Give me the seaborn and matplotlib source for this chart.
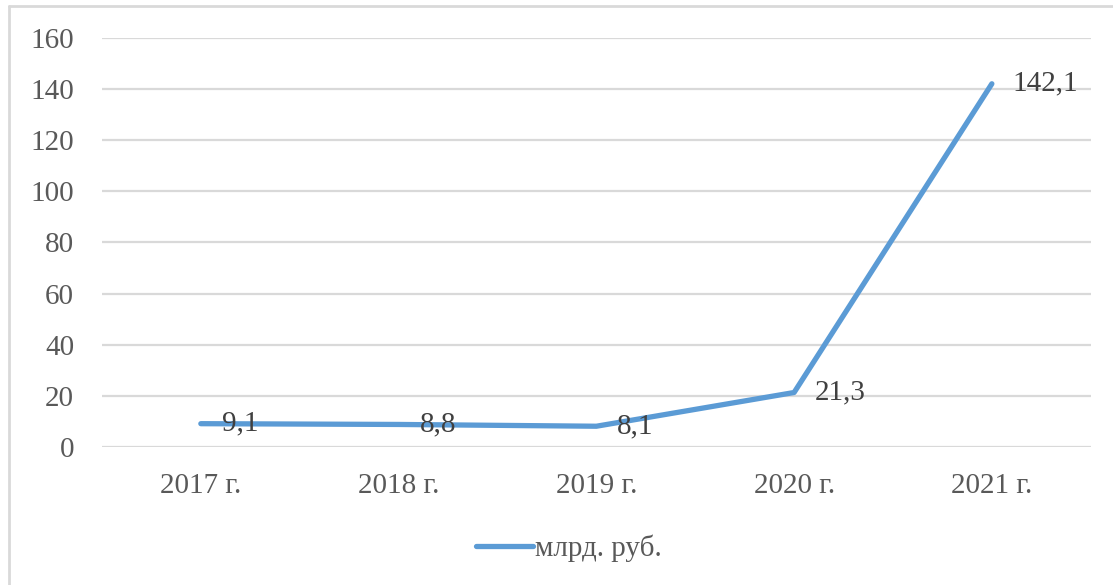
import pandas as pd
import seaborn as sns
import matplotlib.pyplot as plt
from matplotlib.lines import Line2D

# Data
years = ['2017 г.', '2018 г.', '2019 г.', '2020 г.', '2021 г.']
values = [9.1, 8.8, 8.1, 21.3, 142.1]
labels = ['9,1', '8,8', '8,1', '21,3', '142,1']
series_name = 'млрд. руб.'

df = pd.DataFrame({'Year': years, 'Value': values})

sns.set_style('white')
plt.rcParams['font.family'] = ['Liberation Serif', 'DejaVu Serif']
text_color = '#595959'
line_color = '#5B9BD5'
grid_color = '#D9D9D9'

fig = plt.figure(figsize=(11.13, 5.85), dpi=100)
ax = fig.add_axes([0.0916, 0.236, 0.8884, 0.699])

sns.lineplot(data=df, x='Year', y='Value', ax=ax, color=line_color,
             linewidth=3.8, solid_capstyle='round', solid_joinstyle='round',
             sort=False, label=series_name)

# Data labels to the right of each point
for i, (v, lab) in enumerate(zip(values, labels)):
    ax.annotate(lab, (i, v), xytext=(15, 0), textcoords='offset points',
                ha='left', va='center', fontsize=21, color='#404040')

ax.set_xlim(-0.5, 4.5)
ax.set_ylim(0, 160)
ax.set_yticks(range(0, 161, 20))
ax.yaxis.grid(True, color=grid_color, linewidth=1.6)
ax.set_axisbelow(True)
for s in ax.spines.values():
    s.set_visible(False)
ax.tick_params(axis='both', length=0, labelsize=21, labelcolor=text_color)
ax.tick_params(axis='y', pad=20)
ax.tick_params(axis='x', pad=19)
ax.set_xlabel('')
ax.set_ylabel('')

ax.legend(loc='center', bbox_to_anchor=(0.511, 0.063),
          bbox_transform=fig.transFigure, frameon=False, fontsize=21,
          handlelength=1.95, handletextpad=0.05, labelcolor=text_color)

# Chart area border (top and left visible)
fig.add_artist(Line2D([9 / 1113, 1], [1 - 6 / 585, 1 - 6 / 585],
                      transform=fig.transFigure, color=grid_color, linewidth=2))
fig.add_artist(Line2D([9 / 1113, 9 / 1113], [0, 1 - 6 / 585],
                      transform=fig.transFigure, color=grid_color, linewidth=2))

fig.savefig('out.png', dpi=100)
